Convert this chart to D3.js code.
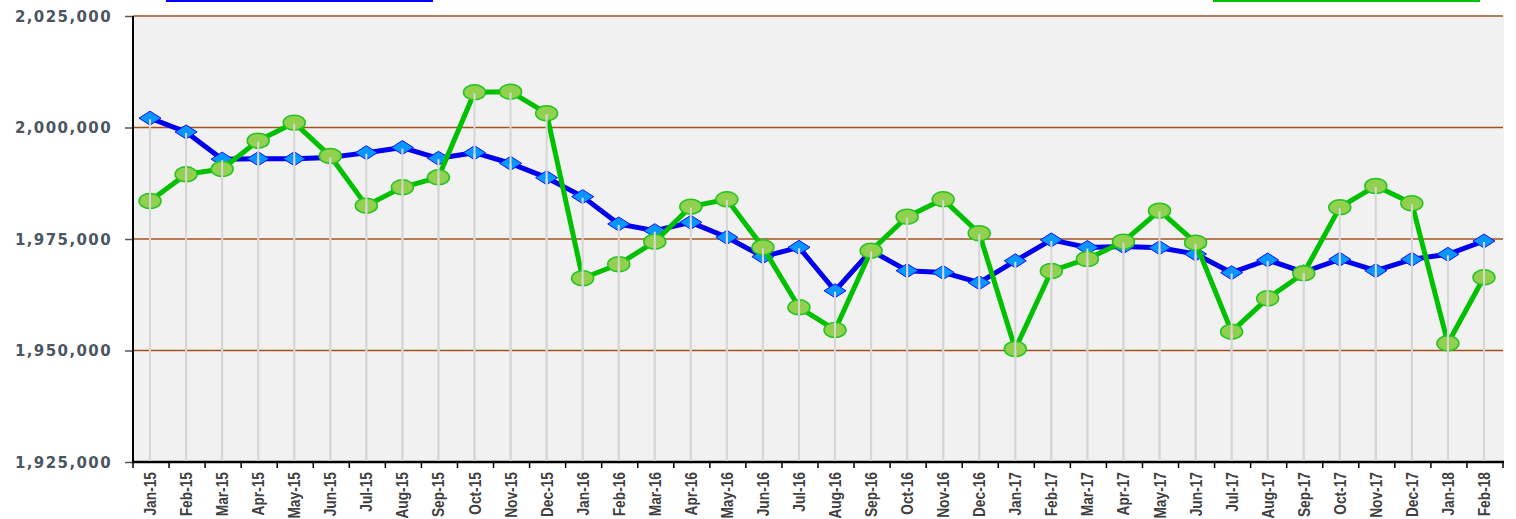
<!DOCTYPE html>
<html>
<head>
<meta charset="utf-8">
<script src="https://cdn.jsdelivr.net/npm/d3@7"></script>
<style>
  body { margin: 0; background: #fff; }
  svg { display: block; }
</style>
</head>
<body>
<div id="chart-area"></div>
<script>
// months on the x axis
let months = ["Jan-15","Feb-15","Mar-15","Apr-15","May-15","Jun-15","Jul-15","Aug-15","Sep-15","Oct-15","Nov-15","Dec-15",
    "Jan-16","Feb-16","Mar-16","Apr-16","May-16","Jun-16","Jul-16","Aug-16","Sep-16","Oct-16","Nov-16","Dec-16",
    "Jan-17","Feb-17","Mar-17","Apr-17","May-17","Jun-17","Jul-17","Aug-17","Sep-17","Oct-17","Nov-17","Dec-17",
    "Jan-18","Feb-18"];

// blue series (diamonds)
let blueValues = [2002100, 1999000, 1992900, 1993000, 1993000, 1993300, 1994350, 1995500, 1993100, 1994350, 1991970, 1988750,
    1984500, 1978370, 1976870, 1978740, 1975380, 1971040, 1973130, 1963400, 1972400, 1967900, 1967500, 1965200,
    1970100, 1974800, 1973100, 1973300, 1973050, 1971640, 1967450, 1970300, 1967600, 1970450, 1967900, 1970450,
    1971570, 1974550];

// green series (circles)
let greenValues = [1983520, 1989500, 1990700, 1997050, 2001090, 1993600, 1982480, 1986590, 1988830, 2007890, 2008030, 2003180,
    1966190, 1969330, 1974400, 1982250, 1983900, 1973130, 1959680, 1954600, 1972380, 1980000, 1983900, 1976280,
    1950340, 1967830, 1970520, 1974400, 1981350, 1974180, 1954220, 1961700, 1967310, 1982100, 1986890, 1983000,
    1951610, 1966410];

let yTicks = [1925000, 1950000, 1975000, 2000000, 2025000];

let W = 1516, H = 519;
let plot = { left: 133, right: 1503, top: 16, bottom: 462 };

let svg = d3.select("#chart-area")
    .append("svg")
    .attr("width", W)
    .attr("height", H);

// X Scale
let x = d3.scaleBand()
    .domain(months)
    .range([plot.left, plot.right])
    .padding(0);

// Y Scale
let y = d3.scaleLinear()
    .domain([1925000, 2025000])
    .range([plot.bottom, plot.top]);

function cx(d) { return x(d) + x.bandwidth() / 2 - 1; }

// plot background
svg.append("rect")
    .attr("x", plot.left)
    .attr("y", plot.top)
    .attr("width", plot.right - plot.left + 1)
    .attr("height", plot.bottom - plot.top)
    .attr("fill", "#f1f1f1");

// gridlines
svg.append("g")
    .selectAll("line")
    .data(yTicks.slice(1))
    .enter()
    .append("line")
        .attr("x1", plot.left)
        .attr("x2", plot.right)
        .attr("y1", function(d){ return y(d); })
        .attr("y2", function(d){ return y(d); })
        .attr("stroke", "#a3521c")
        .attr("stroke-width", 1.5);

// legend stubs (cut off at the top of the picture)
svg.append("rect").attr("x", 166).attr("y", 0).attr("width", 267).attr("height", 2).attr("fill", "#0000ff");
svg.append("rect").attr("x", 1213).attr("y", 0).attr("width", 267).attr("height", 2).attr("fill", "#00c000");

// Y Axis
let yAxisCall = d3.axisLeft(y)
    .tickValues(yTicks)
    .tickSize(8)
    .tickPadding(13)
    .tickFormat(d3.format(","));
let yAxis = svg.append("g")
    .attr("transform", "translate(" + plot.left + ",0)")
    .call(yAxisCall);
yAxis.select(".domain").remove();
yAxis.selectAll(".tick line").attr("stroke", "#555").attr("stroke-width", 1.5);
yAxis.selectAll("text")
    .attr("fill", "#4a5661")
    .style("font-family", "'DejaVu Sans', sans-serif")
    .style("font-weight", "bold")
    .style("font-size", "15px")
    .style("letter-spacing", "1.4px")
    .attr("dy", "0.36em");
svg.append("line")
    .attr("x1", plot.left).attr("x2", plot.left)
    .attr("y1", plot.top).attr("y2", plot.bottom)
    .attr("stroke", "#000").attr("stroke-width", 2);

// X Axis ticks at category edges
let xAxis = svg.append("g");
xAxis.selectAll("line.tk")
    .data(months.concat(["end"]))
    .enter()
    .append("line")
        .attr("class", "tk")
        .attr("x1", function(d, i){ return plot.left + i * x.bandwidth(); })
        .attr("x2", function(d, i){ return plot.left + i * x.bandwidth(); })
        .attr("y1", plot.bottom)
        .attr("y2", plot.bottom + 6)
        .attr("stroke", "#000")
        .attr("stroke-width", 1.5);
// condensed, tall labels like the original
xAxis.selectAll("text")
    .data(months)
    .enter()
    .append("text")
        .attr("transform", function(d){ return "translate(" + (cx(d) + 6) + "," + (plot.bottom + 10) + ") rotate(-90) scale(0.86,1)"; })
        .attr("text-anchor", "end")
        .attr("fill", "#3f3f3f")
        .style("font-family", "'Liberation Sans', Arial, sans-serif")
        .style("font-weight", "bold")
        .style("font-size", "16px")
        .text(function(d){ return d; });
svg.append("line")
    .attr("x1", plot.left - 1).attr("x2", plot.right + 1)
    .attr("y1", plot.bottom).attr("y2", plot.bottom)
    .attr("stroke", "#000").attr("stroke-width", 2.5);

// Lines
let blueData = months.map(function(m, i){ return { m: m, v: blueValues[i] }; });
let greenData = months.map(function(m, i){ return { m: m, v: greenValues[i] }; });

let line = d3.line()
    .x(function(d){ return cx(d.m); })
    .y(function(d){ return y(d.v); });

svg.append("path")
    .datum(blueData)
    .attr("fill", "none")
    .attr("stroke", "#0000ee")
    .attr("stroke-width", 5)
    .attr("stroke-linejoin", "round")
    .attr("d", line);

svg.append("g")
    .selectAll("path")
    .data(blueData)
    .enter()
    .append("path")
        .attr("d", "M-11,0L0,-7L11,0L0,7Z")
        .attr("transform", function(d){ return "translate(" + cx(d.m) + "," + y(d.v) + ")"; })
        .attr("fill", "#0a96ff")
        .attr("stroke", "#1010ff")
        .attr("stroke-width", 1);

svg.append("path")
    .datum(greenData)
    .attr("fill", "none")
    .attr("stroke", "#00c000")
    .attr("stroke-width", 5)
    .attr("stroke-linejoin", "round")
    .attr("d", line);

svg.append("g")
    .selectAll("ellipse")
    .data(greenData)
    .enter()
    .append("ellipse")
        .attr("cx", function(d){ return cx(d.m); })
        .attr("cy", function(d){ return y(d.v); })
        .attr("rx", 11)
        .attr("ry", 7.5)
        .attr("fill", "#92d050")
        .attr("stroke", "#22c41e")
        .attr("stroke-width", 1.5);

// drop lines from each point to the axis
let drops = svg.append("g");
[blueData, greenData].forEach(function(series){
    drops.selectAll(null)
        .data(series)
        .enter()
        .append("line")
            .attr("x1", function(d){ return cx(d.m); })
            .attr("x2", function(d){ return cx(d.m); })
            .attr("y1", function(d){ return y(d.v) + 1; })
            .attr("y2", plot.bottom - 1)
            .attr("stroke", "#d6d6d6")
            .attr("stroke-width", 2);
});
</script>
</body>
</html>
